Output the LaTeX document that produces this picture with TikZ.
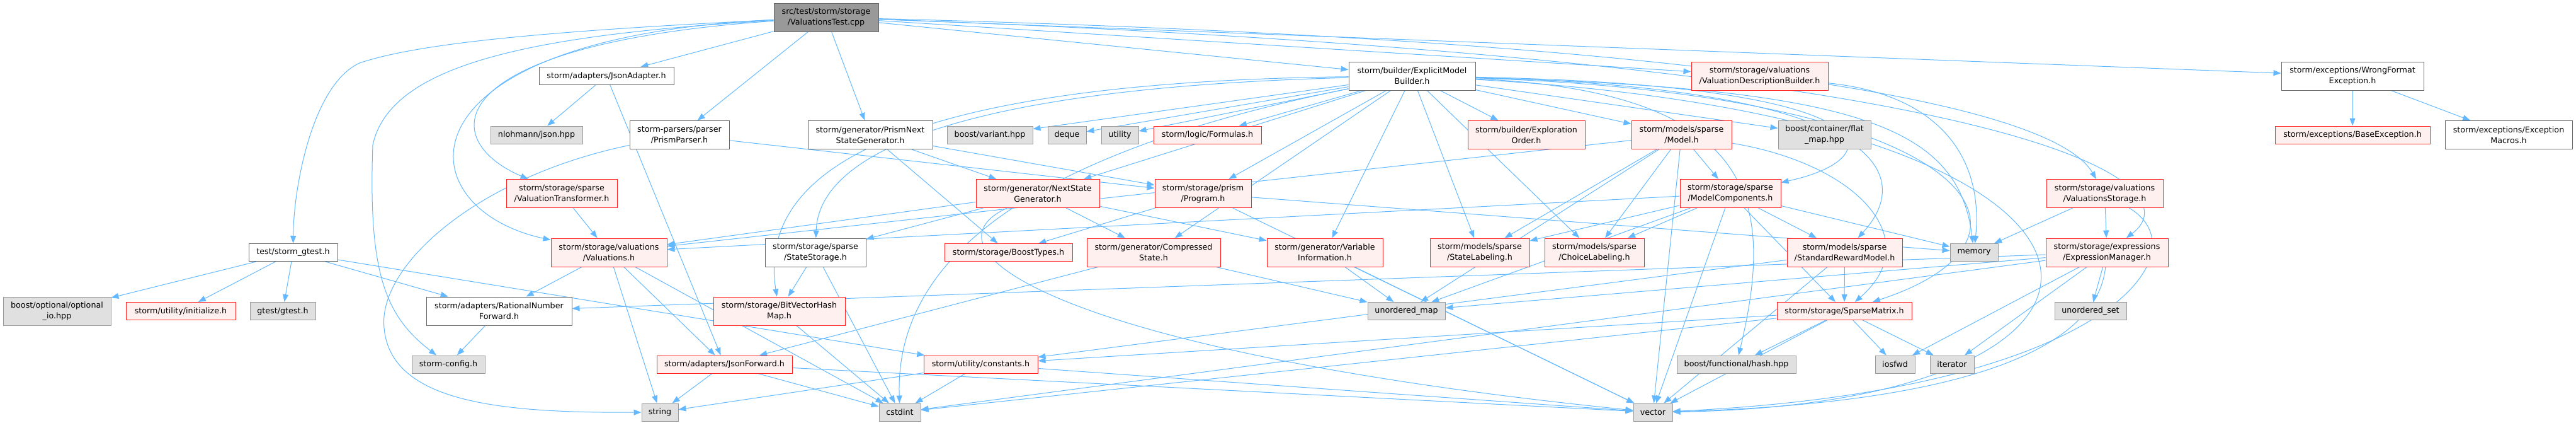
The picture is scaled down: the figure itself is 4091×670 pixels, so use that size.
\documentclass[tikz,border=0pt]{standalone}
\usepackage{fontspec}
\setmainfont{DejaVu Sans}
\usetikzlibrary{arrows.meta}

\definecolor{edgeblue}{HTML}{63B8FF}
\definecolor{boxline}{HTML}{666666}
\definecolor{sysline}{HTML}{999999}
\definecolor{sysfill}{HTML}{E0E0E0}
\definecolor{redfill}{HTML}{FFF0F0}
\definecolor{redline}{HTML}{FF2020}
\definecolor{rootfill}{HTML}{999999}

\pgfdeclarelayer{edges}
\pgfsetlayers{edges,main}

\begin{document}
\begin{tikzpicture}[x=1pt, y=-1pt,
    file/.style={draw=boxline, fill=white, line width=1pt, inner sep=1pt,
      align=center, font=\fontsize{12.7}{17}\selectfont},
    sys/.style={file, draw=sysline, fill=sysfill},
    trunc/.style={file, draw=redline, fill=redfill},
    root/.style={file, draw=boxline, fill=rootfill},
    oneline/.style={minimum height=28},
    twoline/.style={minimum height=45},
    dep/.style={draw=edgeblue, line width=1pt, -{Triangle[length=12pt, width=9pt]}}]

  % Size settings (rows of the graph, top to bottom)
  \def\rowA{27.5}
  \def\rowB{120.5}
  \def\rowC{214}
  \def\rowD{307}
  \def\rowE{400.5}
  \def\rowF{493.5}
  \def\rowG{578}
  \def\rowH{654}

  \useasboundingbox (0,0) rectangle (4091,670);

  % Row 1: the test file
  \node[root, twoline, minimum width=166] (src) at (1312,\rowA) {src/test/storm/storage\\/ValuationsTest.cpp};

  % Row 2
  \node[file, oneline, minimum width=214] (jsonadapt) at (963,\rowB) {storm/adapters/JsonAdapter.h};
  \node[file, twoline, minimum width=201] (emb) at (2242.5,\rowB) {storm/builder/ExplicitModel\\Builder.h};
  \node[trunc, twoline, minimum width=217] (valdesc) at (2794.5,\rowB) {storm/storage/valuations\\/ValuationDescriptionBuilder.h};
  \node[file, twoline, minimum width=226] (wrongfmt) at (3736,\rowB) {storm/exceptions/WrongFormat\\Exception.h};

  % Row 3
  \node[sys, oneline, minimum width=146] (nlohmann) at (852,\rowC) {nlohmann/json.hpp};
  \node[file, twoline, minimum width=158] (prismparser) at (1079,\rowC) {storm-parsers/parser\\/PrismParser.h};
  \node[file, twoline, minimum width=198] (prismnext) at (1382,\rowC) {storm/generator/PrismNext\\StateGenerator.h};
  \node[sys, oneline, minimum width=136] (variant) at (1572,\rowC) {boost/variant.hpp};
  \node[sys, oneline, minimum width=61] (deque) at (1694.5,\rowC) {deque};
  \node[sys, oneline, minimum width=59] (utility) at (1778.5,\rowC) {utility};
  \node[trunc, oneline, minimum width=171] (formulas) at (1917.5,\rowC) {storm/logic/Formulas.h};
  \node[trunc, twoline, minimum width=186] (explorder) at (2424,\rowC) {storm/builder/Exploration\\Order.h};
  \node[trunc, twoline, minimum width=159] (model) at (2670.5,\rowC) {storm/models/sparse\\/Model.h};
  \node[sys, twoline, minimum width=147] (flatmap) at (2897.5,\rowC) {boost/container/flat\\\_map.hpp};
  \node[trunc, oneline, minimum width=246] (baseexc) at (3736,\rowC) {storm/exceptions/BaseException.h};
  \node[file, twoline, minimum width=202] (excmacros) at (3984,\rowC) {storm/exceptions/Exception\\Macros.h};

  % Row 4
  \node[trunc, twoline, minimum width=176] (valtrans) at (892,\rowD) {storm/storage/sparse\\/ValuationTransformer.h};
  \node[trunc, twoline, minimum width=196] (nsg) at (1648,\rowD) {storm/generator/NextState\\Generator.h};
  \node[trunc, twoline, minimum width=153] (program) at (1910.5,\rowD) {storm/storage/prism\\/Program.h};
  \node[trunc, twoline, minimum width=160] (modelcomp) at (2748,\rowD) {storm/storage/sparse\\/ModelComponents.h};
  \node[trunc, twoline, minimum width=185] (valstor) at (3342.5,\rowD) {storm/storage/valuations\\/ValuationsStorage.h};

  % Row 5
  \node[file, oneline, minimum width=141] (gtest) at (465.5,\rowE) {test/storm\_gtest.h};
  \node[trunc, twoline, minimum width=184] (valuations) at (967,\rowE) {storm/storage/valuations\\/Valuations.h};
  \node[file, twoline, minimum width=160] (statestor) at (1295,\rowE) {storm/storage/sparse\\/StateStorage.h};
  \node[trunc, oneline, minimum width=203] (boosttypes) at (1601.5,\rowE) {storm/storage/BoostTypes.h};
  \node[trunc, twoline, minimum width=212] (compstate) at (1832,\rowE) {storm/generator/Compressed\\State.h};
  \node[trunc, twoline, minimum width=184] (varinfo) at (2104,\rowE) {storm/generator/Variable\\Information.h};
  \node[trunc, twoline, minimum width=158] (statelab) at (2350,\rowE) {storm/models/sparse\\/StateLabeling.h};
  \node[trunc, twoline, minimum width=158] (choicelab) at (2532,\rowE) {storm/models/sparse\\/ChoiceLabeling.h};
  \node[trunc, twoline, minimum width=183] (stdreward) at (2929.5,\rowE) {storm/models/sparse\\/StandardRewardModel.h};
  \node[sys, oneline, minimum width=76] (memory) at (3135,\rowE) {memory};
  \node[trunc, twoline, minimum width=194] (exprmgr) at (3346,\rowE) {storm/storage/expressions\\/ExpressionManager.h};

  % Row 6
  \node[sys, twoline, minimum width=171] (optio) at (90.5,\rowF) {boost/optional/optional\\\_io.hpp};
  \node[trunc, oneline, minimum width=174] (init) at (287,\rowF) {storm/utility/initialize.h};
  \node[sys, oneline, minimum width=104] (gtesth) at (449,\rowF) {gtest/gtest.h};
  \node[file, twoline, minimum width=231] (ratfwd) at (792.5,\rowF) {storm/adapters/RationalNumber\\Forward.h};
  \node[trunc, twoline, minimum width=209] (bvhm) at (1237.5,\rowF) {storm/storage/BitVectorHash\\Map.h};
  \node[sys, oneline, minimum width=123] (umap) at (2233.5,\rowF) {unordered\_map};
  \node[trunc, oneline, minimum width=214] (sparsemat) at (2929,\rowF) {storm/storage/SparseMatrix.h};
  \node[sys, oneline, minimum width=114] (uset) at (3320,\rowF) {unordered\_set};

  % Row 7
  \node[sys, oneline, minimum width=116] (config) at (712,\rowG) {storm-config.h};
  \node[trunc, oneline, minimum width=215] (jsonfwd) at (1150.5,\rowG) {storm/adapters/JsonForward.h};
  \node[trunc, oneline, minimum width=181] (constants) at (1557.5,\rowG) {storm/utility/constants.h};
  \node[sys, oneline, minimum width=189] (hash) at (2757.5,\rowG) {boost/functional/hash.hpp};
  \node[sys, oneline, minimum width=63] (iosfwd) at (3009.5,\rowG) {iosfwd};
  \node[sys, oneline, minimum width=70] (iterator) at (3100,\rowG) {iterator};

  % Row 8
  \node[sys, oneline, minimum width=58] (string) at (1048,\rowH) {string};
  \node[sys, oneline, minimum width=66] (cstdint) at (1429,\rowH) {cstdint};
  \node[sys, oneline, minimum width=62] (vector) at (2625,\rowH) {vector};

  \begin{pgfonlayer}{edges}
    % Straight include edges
    \foreach \fromnode/\tonode in {
        src/jsonadapt, src/prismparser, src/prismnext, src/emb, src/valdesc,
        src/wrongfmt,
        gtest/optio, gtest/init, gtest/gtesth, gtest/ratfwd, gtest/constants,
        jsonadapt/nlohmann, jsonadapt/jsonfwd,
        prismparser/program,
        prismnext/nsg, prismnext/boosttypes, prismnext/program,
        valtrans/valuations,
        valuations/ratfwd, valuations/jsonfwd, valuations/string, valuations/cstdint,
        ratfwd/config,
        jsonfwd/string, jsonfwd/cstdint, jsonfwd/vector,
        statestor/bvhm, statestor/cstdint, bvhm/cstdint,
        nsg/valuations, nsg/statestor, nsg/compstate, nsg/varinfo,
        program/boosttypes, program/memory, program/vector,
        compstate/jsonfwd, compstate/umap,
        constants/string, constants/cstdint, constants/vector,
        varinfo/umap, varinfo/vector,
        emb/variant, emb/deque, emb/utility, emb/formulas, emb/nsg, emb/program,
        emb/compstate, emb/statelab, emb/choicelab, emb/explorder, emb/model,
        emb/flatmap, emb/varinfo,
        model/statelab, model/choicelab, model/umap, model/modelcomp,
        model/vector, model/valuations,
        modelcomp/statelab, modelcomp/choicelab, modelcomp/stdreward,
        modelcomp/sparsemat, modelcomp/memory, modelcomp/umap, modelcomp/vector,
        modelcomp/valuations,
        stdreward/sparsemat, stdreward/constants, stdreward/vector,
        sparsemat/hash, sparsemat/iosfwd, sparsemat/iterator, sparsemat/constants,
        sparsemat/cstdint, sparsemat/vector,
        valstor/memory, valstor/exprmgr,
        exprmgr/uset, exprmgr/iosfwd, exprmgr/iterator, exprmgr/umap,
        exprmgr/ratfwd, exprmgr/cstdint,
        wrongfmt/baseexc, wrongfmt/excmacros}
      \draw[dep] (\fromnode) -- (\tonode);

    % Edges that swing round the left side
    \draw[dep] (src) .. controls (850,50) and (660,70) .. (571,100) .. controls (495,135) and (466,300) .. (gtest);
    \draw[dep] (src) .. controls (850,55) and (620,100) .. (592,230) .. controls (585,430) and (610,500) .. (config);
    \draw[dep] (src) .. controls (620,60) and (640,330) .. (valuations);
    \draw[dep] (src) .. controls (700,70) and (690,220) .. (valtrans);
    \draw[dep] (prismparser) .. controls (760,280) and (600,420) .. (610,520) .. controls (620,640) and (800,655) .. (string);
    \draw[dep] (emb) .. controls (1500,140) and (1300,250) .. (statestor);
    \draw[dep] (emb) .. controls (1450,130) and (1200,260) .. (bvhm);
    \draw[dep] (emb) .. controls (1700,230) and (1420,380) .. (cstdint);
    \draw[dep] (nsg) .. controls (1450,400) and (1700,560) .. (vector);

    % Edges that swing round the right side
    \draw[dep] (src) .. controls (2600,60) and (3250,150) .. (valstor);
    \draw[dep] (src) .. controls (3300,100) and (3480,300) .. (exprmgr);
    \draw[dep] (emb) .. controls (2790,145) and (2820,320) .. (hash);
    \draw[dep] (emb) .. controls (3010,135) and (3010,250) .. (modelcomp);
    \draw[dep] (emb) .. controls (3000,140) and (3040,280) .. (stdreward);
    \draw[dep] (emb) .. controls (2950,140) and (3110,200) .. (memory);
    \draw[dep] (emb) .. controls (3150,150) and (3280,380) .. (sparsemat);
    \draw[dep] (emb) .. controls (3480,190) and (3480,640) .. (vector);
    \draw[dep] (model) .. controls (2950,260) and (3060,380) .. (sparsemat);
    \draw[dep] (valdesc) .. controls (3080,150) and (3150,250) .. (memory);
    \draw[dep] (valstor) .. controls (3500,400) and (3350,620) .. (vector);
    \draw[dep] (exprmgr) .. controls (3330,560) and (3100,640) .. (vector);
  \end{pgfonlayer}

\end{tikzpicture}
\end{document}
